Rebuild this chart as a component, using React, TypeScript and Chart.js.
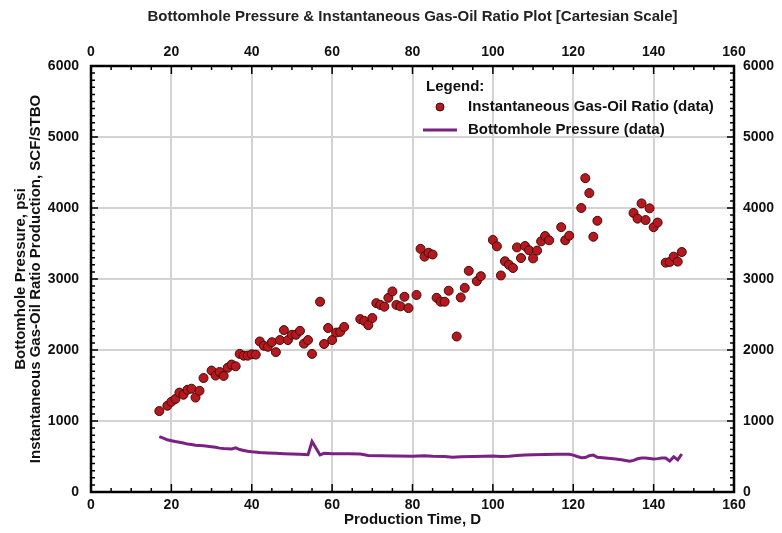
import React, { useEffect, useRef } from 'react';
import { Chart, registerables } from 'chart.js';

Chart.register(...registerables);

const FONT = '"Liberation Sans", Arial, Helvetica, sans-serif';

const chartTitle = 'Bottomhole Pressure & Instantaneous Gas-Oil Ratio Plot [Cartesian Scale]';
const xAxisTitle = 'Production Time, D';
const yAxisTitle = ['Bottomhole Pressure, psi', 'Instantaneous Gas-Oil Ratio Production, SCF/STBO'];
const gorLabel = 'Instantaneous Gas-Oil Ratio (data)';
const bhpLabel = 'Bottomhole Pressure (data)';
const legendTitle = 'Legend:';

const xMin = 0;
const xMax = 160;
const xMajorStep = 20;
const xMinorStep = 5;
const yMin = 0;
const yMax = 6000;
const yMajorStep = 1000;
const yMinorStep = 100;

// Instantaneous Gas-Oil Ratio (SCF/STBO) vs production time (days)
const gorDays = [
  17, 19, 20, 21, 22, 23, 24, 25, 26, 27, 28, 30, 31, 32, 33, 34, 35, 36, 37, 38,
  39, 40, 41, 42, 43, 44, 45, 46, 47, 48, 49, 50, 51, 52, 53, 54, 55, 57, 58, 59,
  60, 61, 62, 63, 67, 68, 69, 70, 71, 72, 73, 74, 75, 76, 77, 78, 79, 81, 82, 83,
  84, 85, 86, 87, 88, 89, 91, 92, 93, 94, 96, 97, 100, 101, 102, 103, 104, 105, 106, 107,
  108, 109, 110, 111, 112, 113, 114, 117, 118, 119, 122, 123, 124, 125, 126, 135, 136, 137, 138, 139,
  140, 141, 143, 144, 145, 146, 147,
];
const gorValues = [
  1140, 1215, 1270, 1310, 1400, 1370, 1440, 1455, 1330, 1425, 1605, 1710, 1640, 1690, 1635, 1750, 1795, 1770, 1945, 1920,
  1920, 1940, 1935, 2120, 2060, 2045, 2110, 1970, 2140, 2280, 2140, 2215, 2215, 2270, 2090, 2140, 1945, 2680, 2085, 2310,
  2140, 2245, 2255, 2325, 2435, 2410, 2350, 2450, 2660, 2635, 2610, 2735, 2825, 2635, 2615, 2750, 2590, 2775, 3425, 3315,
  3370, 3345, 2735, 2680, 2680, 2835, 2190, 2740, 2875, 3115, 2970, 3040, 3550, 3460, 3050, 3250, 3200, 3155, 3445, 3295,
  3465, 3405, 3290, 3400, 3530, 3605, 3545, 3730, 3545, 3610, 4000, 4420, 4210, 3595, 3820, 3930, 3850, 4065, 3830, 3995,
  3730, 3795, 3230, 3240, 3315, 3245, 3380,
];

// Bottomhole pressure (psi) vs production time (days)
const bhpDays = [
  17, 18, 19, 20, 21, 22, 23, 24, 25, 26, 27, 28, 29, 30, 31, 32, 33, 34, 35, 36,
  37, 38, 39, 40, 42, 44, 46, 48, 50, 52, 54, 55, 57, 58, 60, 64, 67, 69, 72, 76,
  80, 83, 85, 88, 90, 92, 95, 98, 100, 102, 104, 106, 108, 110, 113, 116, 119, 120, 121, 122,
  123, 124, 125, 126, 128, 130, 132, 134, 135, 136, 137, 138, 139, 140, 141, 142, 143, 144, 145, 146,
  147,
];
const bhpValues = [
  780, 760, 735, 722, 710, 700, 690, 675, 668, 660, 655, 650, 645, 638, 630, 618, 612, 608, 605, 622,
  598, 585, 573, 566, 556, 550, 545, 540, 535, 530, 525, 712, 522, 545, 540, 538, 534, 515, 510, 508,
  503, 512, 502, 500, 490, 495, 500, 505, 508, 500, 505, 515, 520, 525, 528, 530, 532, 520, 500, 482,
  486, 512, 520, 488, 480, 468, 455, 432, 445, 468, 478, 478, 472, 464, 470, 478, 478, 435, 495, 452,
  535,
];

const tickFont = { family: FONT, size: 14, weight: 'bold' as const };
const axisTitleFont = { family: FONT, size: 15, weight: 'bold' as const };
const gridColor = '#d3d3d3';
const gorFill = '#b3191e';
const gorEdge = '#4a0808';
const bhpColor = '#7b2183';
const plainLabel = (v: any) => String(v);

const framePlugin = {
  id: 'frameTicksLegend',
  afterDraw(chart: any) {
    const { ctx, chartArea: a, scales } = chart;
    const xs = scales.x;
    const ys = scales.y;
    ctx.save();
    ctx.strokeStyle = '#000';
    ctx.lineWidth = 1.5;
    ctx.beginPath();
    for (let v = xMin; v <= xMax; v += xMinorStep) {
      const px = xs.getPixelForValue(v);
      const len = v % xMajorStep === 0 ? 8 : 4;
      ctx.moveTo(px, a.bottom);
      ctx.lineTo(px, a.bottom - len);
      ctx.moveTo(px, a.top);
      ctx.lineTo(px, a.top + len);
    }
    for (let v = yMin; v <= yMax; v += yMinorStep) {
      const py = ys.getPixelForValue(v);
      const len = v % yMajorStep === 0 ? 7 : 4;
      ctx.moveTo(a.left, py);
      ctx.lineTo(a.left + len, py);
      ctx.moveTo(a.right, py);
      ctx.lineTo(a.right - len, py);
    }
    ctx.stroke();
    ctx.lineWidth = 2.5;
    ctx.strokeRect(a.left, a.top, a.right - a.left, a.bottom - a.top);

    // legend
    ctx.font = `bold 15px ${FONT}`;
    ctx.fillStyle = '#111';
    ctx.textBaseline = 'middle';
    ctx.textAlign = 'left';
    ctx.fillText(legendTitle, 426, 87);
    ctx.fillText(gorLabel, 468, 107);
    ctx.fillText(bhpLabel, 468, 130);
    ctx.beginPath();
    ctx.arc(440, 107, 4, 0, Math.PI * 2);
    ctx.fillStyle = gorFill;
    ctx.fill();
    ctx.lineWidth = 1;
    ctx.strokeStyle = gorEdge;
    ctx.stroke();
    ctx.beginPath();
    ctx.moveTo(423, 130);
    ctx.lineTo(457, 130);
    ctx.lineWidth = 3;
    ctx.strokeStyle = bhpColor;
    ctx.stroke();
    ctx.restore();
  },
};

export default function App() {
  const canvasRef = useRef<HTMLCanvasElement | null>(null);

  useEffect(() => {
    const canvas = canvasRef.current;
    if (!canvas) return;
    const chart = new Chart(canvas, {
      type: 'scatter',
      data: {
        datasets: [
          {
            label: gorLabel,
            data: gorDays.map((d, i) => ({ x: d, y: gorValues[i] })),
            showLine: false,
            pointRadius: 4.5,
            pointBackgroundColor: gorFill,
            pointBorderColor: gorEdge,
            pointBorderWidth: 1,
            order: 0,
          },
          {
            label: bhpLabel,
            data: bhpDays.map((d, i) => ({ x: d, y: bhpValues[i] })),
            showLine: true,
            pointRadius: 0,
            borderColor: bhpColor,
            borderWidth: 3,
            tension: 0,
            order: 1,
          },
        ],
      },
      options: {
        animation: false,
        responsive: true,
        maintainAspectRatio: false,
        devicePixelRatio: 1,
        layout: { padding: 0 },
        plugins: {
          legend: { display: false },
          tooltip: { enabled: false },
          title: {
            display: true,
            text: chartTitle,
            fullSize: false,
            color: '#222',
            font: { family: FONT, size: 15, weight: 'bold' },
            padding: { top: 8, bottom: 4 },
          },
        },
        scales: {
          x: {
            type: 'linear',
            position: 'bottom',
            min: xMin,
            max: xMax,
            ticks: { stepSize: xMajorStep, font: tickFont, color: '#111', padding: 5, maxRotation: 0, autoSkip: false, callback: plainLabel },
            grid: { color: gridColor, lineWidth: 2, drawTicks: false },
            border: { display: false },
            title: { display: true, text: xAxisTitle, font: axisTitleFont, color: '#111', padding: { top: 0, bottom: 4 } },
            afterFit: (s: any) => { s.height = 41; },
          },
          x2: {
            type: 'linear',
            position: 'top',
            min: xMin,
            max: xMax,
            ticks: { stepSize: xMajorStep, font: tickFont, color: '#111', padding: 5, maxRotation: 0, autoSkip: false, callback: plainLabel },
            grid: { display: false, drawTicks: false },
            border: { display: false },
            afterFit: (s: any) => { s.height = 36; },
          },
          y: {
            type: 'linear',
            position: 'left',
            min: yMin,
            max: yMax,
            ticks: { stepSize: yMajorStep, font: tickFont, color: '#111', padding: 12, callback: plainLabel },
            grid: { color: gridColor, lineWidth: 2, drawTicks: false },
            border: { display: false },
            title: {
              display: true,
              text: yAxisTitle,
              font: { family: FONT, size: 15, weight: 'bold', lineHeight: 1.0 },
              color: '#111',
              padding: { top: 13, bottom: 0 },
            },
            afterFit: (s: any) => { s.width = 91; },
          },
          y2: {
            type: 'linear',
            position: 'right',
            min: yMin,
            max: yMax,
            ticks: { stepSize: yMajorStep, font: tickFont, color: '#111', padding: 9, callback: plainLabel },
            grid: { display: false, drawTicks: false },
            border: { display: false },
            afterFit: (s: any) => { s.width = 48; },
          },
        },
      },
      plugins: [framePlugin],
    });
    return () => chart.destroy();
  }, []);

  return (
    <div style={{ position: 'fixed', left: 0, top: 0, width: 782, height: 533, background: '#fff' }}>
      <canvas ref={canvasRef} />
    </div>
  );
}
